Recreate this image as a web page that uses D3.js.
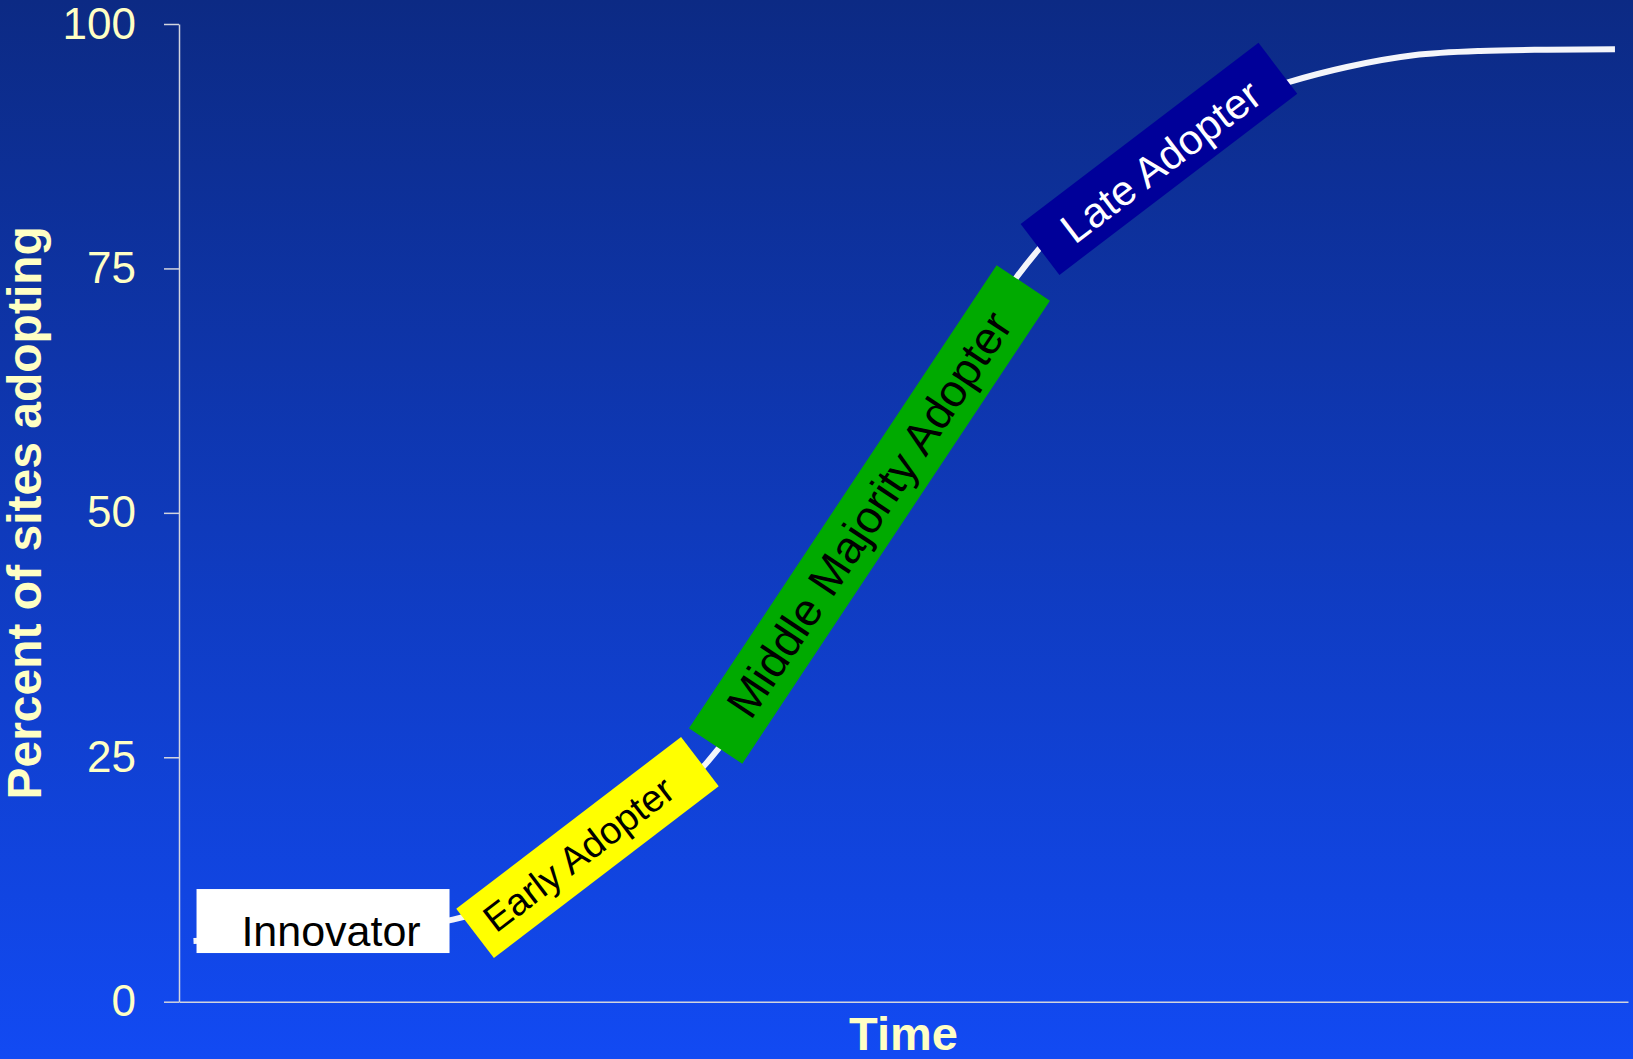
<!DOCTYPE html>
<html>
<head>
<meta charset="utf-8">
<script src="https://cdn.jsdelivr.net/npm/d3@7"></script>
<style>
  html, body { margin: 0; padding: 0; background: #0f3ab8; }
  svg { display: block; }
</style>
</head>
<body>
<svg id="chart" width="1633" height="1059"></svg>
<script>
// Adoption curve: share of sites adopting over time
const timePoints = [1.0, 9.7, 18.9, 23.5, 28.2, 32.5, 36.4, 37.3, 42.9, 47.6, 52.5, 57.8, 59.3, 63.6, 67.7, 71.8, 76.7, 80.6, 85.2, 89.8, 94.4, 99.1];
const percentAdopting = [6.2, 6.9, 8.4, 10.6, 14.5, 19.1, 24.4, 26.0, 38.8, 50.1, 61.7, 74.1, 76.9, 83.2, 88.1, 91.5, 94.1, 95.6, 96.8, 97.24, 97.37, 97.42];

// Adopter categories placed along the curve
const categories = ["Innovator", "Early Adopter", "Middle Majority Adopter", "Late Adopter"];
const categoryTime = [9.94, 28.19, 47.65, 67.63];
const categoryPercent = [8.25, 15.77, 49.83, 86.2];

const yTicks = [0, 25, 50, 75, 100];
const yTitle = "Percent of sites adopting";
const xTitle = "Time";

// Label box styling
const boxStyle = [
  { w: 253, h: 64, angle: 0,     fill: "#ffffff", text: "#000000", size: 43,   dx: 8,   dy: 10 },
  { w: 283, h: 62, angle: -37.4, fill: "#ffff00", text: "#000000", size: 38,   dx: -11, dy: 0 },
  { w: 556, h: 64, angle: -56.4, fill: "#00aa00", text: "#000000", size: 45.5, dx: 0,   dy: 0 },
  { w: 299, h: 64, angle: -37.3, fill: "#000099", text: "#ffffff", size: 42,   dx: 0,   dy: 3 }
];

const W = 1633, H = 1059;
const margin = { left: 179, right: 5, top: 24, bottom: 57.3 };
const font = "'Liberation Sans', Arial, Helvetica, sans-serif";
const textColor = "#ffffc4";
const axisColor = "#d2d4de";

const svg = d3.select("#chart");

// Background gradient
const defs = svg.append("defs");
const grad = defs.append("linearGradient")
  .attr("id", "bg").attr("x1", 0).attr("y1", 0).attr("x2", 0).attr("y2", 1);
grad.append("stop").attr("offset", "0%").attr("stop-color", "#0c2a84");
grad.append("stop").attr("offset", "100%").attr("stop-color", "#124af3");
svg.append("rect").attr("width", W).attr("height", H).attr("fill", "url(#bg)");

const x = d3.scaleLinear().domain([0, 100]).range([margin.left, W - margin.right]);
const y = d3.scaleLinear().domain([0, 100]).range([H - margin.bottom, margin.top]);

// Y axis
const yAxis = svg.append("g")
  .attr("transform", `translate(${margin.left},0)`)
  .call(d3.axisLeft(y).tickValues(yTicks).tickSize(15).tickPadding(28).tickSizeOuter(0));
yAxis.select(".domain").attr("stroke", axisColor).attr("stroke-width", 1.5);
yAxis.selectAll(".tick line").attr("stroke", axisColor).attr("stroke-width", 1.5);
yAxis.selectAll(".tick text")
  .attr("fill", textColor)
  .style("font-family", font)
  .style("font-size", "44px");

// X axis (no ticks)
const xAxis = svg.append("g")
  .attr("transform", `translate(0,${y(0)})`)
  .call(d3.axisBottom(x).tickValues([]).tickSizeOuter(0));
xAxis.select(".domain").attr("stroke", axisColor).attr("stroke-width", 1.5);

// Axis titles
svg.append("text")
  .attr("transform", `translate(41,${(y(0) + y(100)) / 2}) rotate(-90)`)
  .attr("text-anchor", "middle")
  .attr("fill", textColor)
  .style("font-family", font)
  .style("font-weight", "bold")
  .style("font-size", "48px")
  .text(yTitle);

svg.append("text")
  .attr("x", (x(0) + x(100)) / 2)
  .attr("y", 1050)
  .attr("text-anchor", "middle")
  .attr("fill", textColor)
  .style("font-family", font)
  .style("font-weight", "bold")
  .style("font-size", "47px")
  .text(xTitle);

// Adoption curve
const curveData = timePoints.map((t, i) => ({ t, p: percentAdopting[i] }));
const line = d3.line()
  .x(d => x(d.t))
  .y(d => y(d.p))
  .curve(d3.curveMonotoneX);

svg.append("path")
  .datum(curveData)
  .attr("d", line)
  .attr("fill", "none")
  .attr("stroke", "#f4f5fa")
  .attr("stroke-width", 6);

// Category label boxes
const labels = svg.append("g").selectAll("g")
  .data(categories.map((name, i) => ({ name, t: categoryTime[i], p: categoryPercent[i], s: boxStyle[i] })))
  .join("g")
  .attr("transform", d => `translate(${x(d.t)},${y(d.p)}) rotate(${d.s.angle})`);

labels.append("rect")
  .attr("x", d => -d.s.w / 2)
  .attr("y", d => -d.s.h / 2)
  .attr("width", d => d.s.w)
  .attr("height", d => d.s.h)
  .attr("fill", d => d.s.fill);

labels.append("text")
  .attr("x", d => d.s.dx)
  .attr("y", d => d.s.dy)
  .attr("text-anchor", "middle")
  .attr("dominant-baseline", "central")
  .attr("fill", d => d.s.text)
  .style("font-family", font)
  .style("font-size", d => d.s.size + "px")
  .text(d => d.name);
</script>
</body>
</html>
